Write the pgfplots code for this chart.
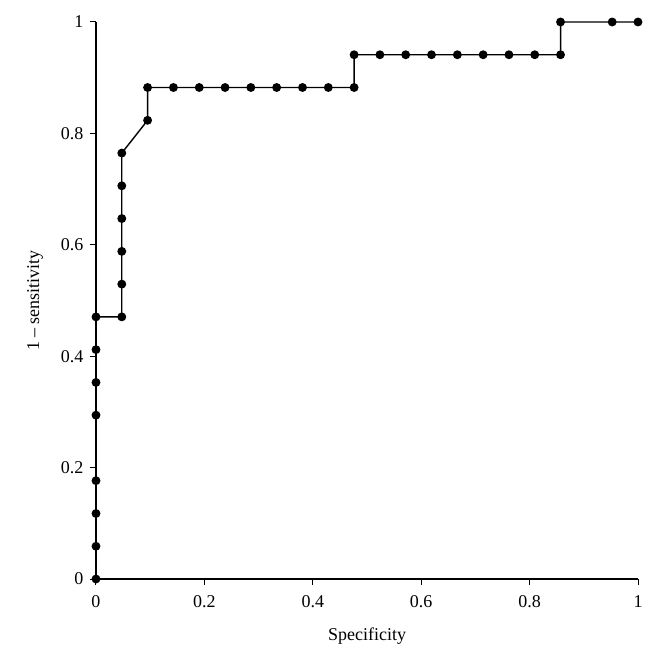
\documentclass[border=0pt]{standalone}
\usepackage{fontspec}
\setmainfont{Liberation Serif}
\usepackage{pgfplots}
\pgfplotsset{compat=1.18}
\usetikzlibrary{calc}
\begin{document}
\begin{tikzpicture}[font=\fontsize{18}{21}\selectfont]
\begin{axis}[
  name=ax,
  scale only axis,
  width=542pt, height=557pt,
  xmin=0, xmax=1, ymin=0, ymax=1,
  axis lines=left,
  axis line style={-, line width=1.2pt},
  tick style={line width=1pt, black},
  tick align=outside,
  major tick length=6pt,
  xtick={0,0.2,0.4,0.6,0.8,1},
  ytick={0,0.2,0.4,0.6,0.8,1},
  xticklabels={0,0.2,0.4,0.6,0.8,1},
  yticklabels={0,0.2,0.4,0.6,0.8,1},
  ticklabel style={font=\fontsize{18}{21}\selectfont},
  label style={font=\fontsize{18}{21}\selectfont},
  xticklabel style={yshift=-7pt},
  yticklabel style={xshift=-3pt},
  /pgf/number format/assume math mode=true,
  xlabel={Specificity},
  ylabel={1 -- sensitivity},
  xlabel style={yshift=-13pt},
  ylabel style={yshift=11pt},
  clip=false,
]
\addplot[black, line width=1.4pt, mark=*, mark size=3.7pt] coordinates {
(0,0) (0,0.0588) (0,0.1176) (0,0.1765) (0,0.2941) (0,0.3529) (0,0.4118) (0,0.4706)
(0.0476,0.4706) (0.0476,0.5294) (0.0476,0.5882) (0.0476,0.6471) (0.0476,0.7059) (0.0476,0.7647)
(0.0952,0.8235) (0.0952,0.8824)
(0.1429,0.8824) (0.1905,0.8824) (0.2381,0.8824) (0.2857,0.8824) (0.3333,0.8824) (0.3810,0.8824) (0.4286,0.8824) (0.4762,0.8824)
(0.4762,0.9412) (0.5238,0.9412) (0.5714,0.9412) (0.6190,0.9412) (0.6667,0.9412) (0.7143,0.9412) (0.7619,0.9412) (0.8095,0.9412) (0.8571,0.9412)
(0.8571,1) (0.9524,1) (1,1)
};
\end{axis}
\pgfresetboundingbox
\path ($(ax.south west)+(-96pt,-82pt)$) rectangle ($(ax.north east)+(17pt,22pt)$);
\end{tikzpicture}
\end{document}
